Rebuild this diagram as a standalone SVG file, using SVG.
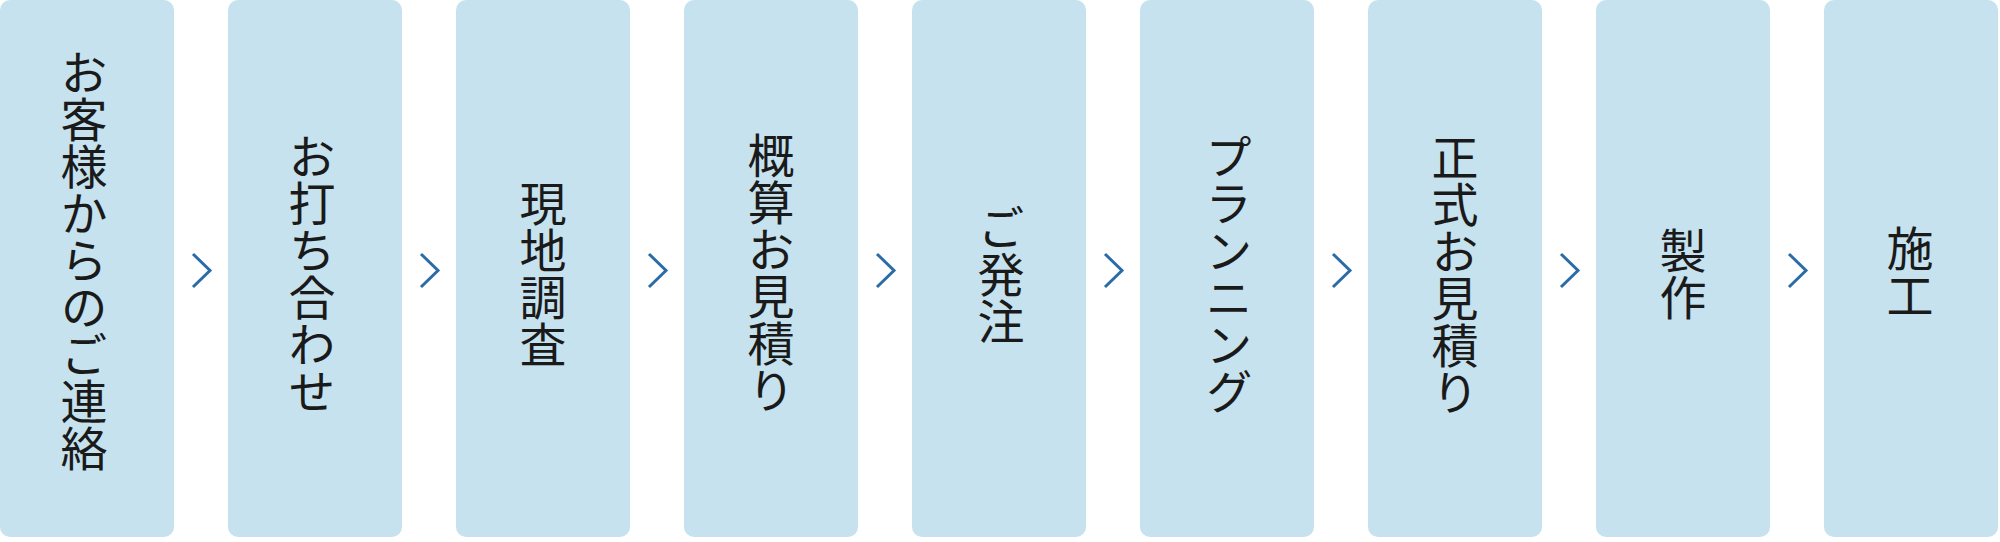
<svg xmlns="http://www.w3.org/2000/svg" width="2000" height="542" viewBox="0 0 2000 542">
<style>
.box{fill:#c6e2ee}
.lbl{font-family:"Noto Sans CJK JP","Noto Sans CJK SC",sans-serif;font-size:47px;fill:#1a1a1a;writing-mode:vertical-rl;text-anchor:middle}
.chev{fill:none;stroke:#2b6ca6;stroke-width:3}
</style>
<g id="n1"><rect class="box" x="0" y="0" width="174" height="537" rx="10"/><text class="lbl" x="84" y="260">お客様からのご連絡</text></g>
<g id="n2"><rect class="box" x="228" y="0" width="174" height="537" rx="10"/><text class="lbl" x="312" y="274">お打ち合わせ</text></g>
<g id="n3"><rect class="box" x="456" y="0" width="174" height="537" rx="10"/><text class="lbl" x="543" y="274">現地調査</text></g>
<g id="n4"><rect class="box" x="684" y="0" width="174" height="537" rx="10"/><text class="lbl" x="771" y="273">概算お見積り</text></g>
<g id="n5"><rect class="box" x="912" y="0" width="174" height="537" rx="10"/><text class="lbl" x="1001" y="274">ご発注</text></g>
<g id="n6"><rect class="box" x="1140" y="0" width="174" height="537" rx="10"/><text class="lbl" x="1229" y="274">プランニング</text></g>
<g id="n7"><rect class="box" x="1368" y="0" width="174" height="537" rx="10"/><text class="lbl" x="1455" y="275">正式お見積り</text></g>
<g id="n8"><rect class="box" x="1596" y="0" width="174" height="537" rx="10"/><text class="lbl" x="1683" y="274">製作</text></g>
<g id="n9"><rect class="box" x="1824" y="0" width="174" height="537" rx="10"/><text class="lbl" x="1910" y="272">施工</text></g>
<g id="connectors">
<path class="chev" d="M193 254 L210 270.5 L193 287"/>
<path class="chev" d="M421 254 L438 270.5 L421 287"/>
<path class="chev" d="M649 254 L666 270.5 L649 287"/>
<path class="chev" d="M877 254 L894 270.5 L877 287"/>
<path class="chev" d="M1105 254 L1122 270.5 L1105 287"/>
<path class="chev" d="M1333 254 L1350 270.5 L1333 287"/>
<path class="chev" d="M1561 254 L1578 270.5 L1561 287"/>
<path class="chev" d="M1789 254 L1806 270.5 L1789 287"/>
</g>
</svg>
